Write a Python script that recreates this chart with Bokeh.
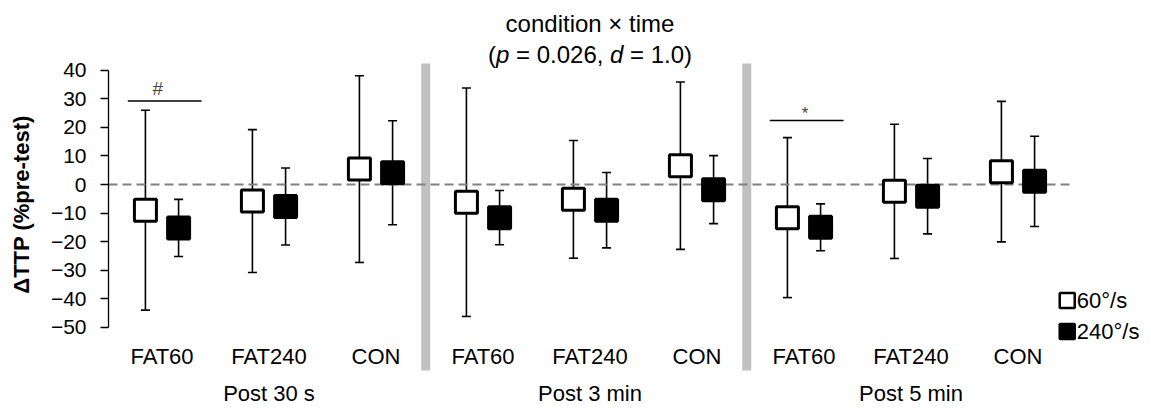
import numpy as np
from bokeh.plotting import figure
from bokeh.models import ColumnDataSource, Range1d, FixedTicker, Whisker, TeeHead
from bokeh.core.properties import value
from bokeh.embed import file_html
from bokeh.resources import INLINE

# ---------------- data ----------------
times = ["Post 30 s", "Post 3 min", "Post 5 min"]
conditions = ["FAT60", "FAT240", "CON"]
series = ["60°/s", "240°/s"]

mean_60 = [-9.0, -5.8, 5.4, -6.2, -5.2, 6.6, -11.6, -2.4, 4.5]
sd_60 = [35.0, 25.0, 32.7, 40.0, 20.6, 29.3, 28.0, 23.5, 24.6]
mean_240 = [-15.2, -7.7, 4.1, -11.6, -9.0, -1.8, -15.0, -4.1, 1.1]
sd_240 = [10.0, 13.5, 18.2, 9.5, 13.2, 11.9, 8.2, 13.2, 15.8]

y_ticks = [-50, -40, -30, -20, -10, 0, 10, 20, 30, 40]
sig_marks = ["#", "*"]
sig_slots = [0, 6]
sig_line_y = [29.2, 22.4]

title_line1 = "condition × time"
title_p_value = "0.026"
title_d_value = "1.0"

FONT = "Liberation Sans"

# ---------------- layout helpers ----------------
n_slots = len(times) * len(conditions)
slot = np.arange(n_slots)
centers = slot + 0.5
dodge = 0.155
x60 = centers - dodge
x240 = centers + dodge

m60 = np.array(mean_60); s60 = np.array(sd_60)
m240 = np.array(mean_240); s240 = np.array(sd_240)

src60 = ColumnDataSource(dict(x=x60, y=m60, upper=m60 + s60, lower=m60 - s60))
src240 = ColumnDataSource(dict(x=x240, y=m240, upper=m240 + s240, lower=m240 - s240))

W, H = 1151, 408
LEFT = 108
ZERO_PX = 184
px_per_unit_y = 2.856
y_top = ZERO_PX / px_per_unit_y
y_bot = -(H - ZERO_PX) / px_per_unit_y

p = figure(width=W, height=H,
           x_range=Range1d(0, (W - LEFT) / 107), y_range=Range1d(y_bot, y_top),
           output_backend="svg", toolbar_location=None, x_axis_location=None,
           min_border_left=LEFT, min_border_right=0, min_border_top=0, min_border_bottom=0)
p.outline_line_color = None
p.xgrid.visible = False
p.ygrid.visible = False
p.background_fill_color = "white"

# y axis
ax = p.yaxis[0]
ax.bounds = (min(y_ticks), max(y_ticks))
ax.ticker = FixedTicker(ticks=y_ticks)
ax.major_tick_out = 8
ax.major_tick_in = 0
ax.minor_tick_line_color = None
ax.axis_line_color = "black"
ax.axis_line_width = 1.3
ax.major_tick_line_color = "black"
ax.major_tick_line_width = 1.3
ax.major_label_text_font = FONT
ax.major_label_text_font_size = "21px"
ax.major_label_text_color = "black"
ax.major_label_standoff = 14
ax.axis_label = "ΔTTP (%pre-test)"
ax.axis_label_text_font = FONT
ax.axis_label_text_font_size = "22px"
ax.axis_label_text_font_style = "bold"
ax.axis_label_text_color = "black"
ax.axis_label_standoff = 14

# separators between time groups
sep_x = np.array([len(conditions) * (i + 1) for i in range(len(times) - 1)]) - 0.035
p.quad(left=sep_x - 0.042, right=sep_x + 0.042, bottom=-65.1, top=42.4,
       fill_color="#c0c0c0", line_color=None)

# zero dashed line
p.segment(x0=[0], x1=[n_slots], y0=[0], y1=[0], line_color="#808080",
          line_width=2.2, line_dash="9 5")

# error bars
for src in (src60, src240):
    w = Whisker(source=src, base="x", upper="upper", lower="lower", dimension="height",
                line_color="black", line_width=1.6,
                upper_head=TeeHead(size=9, line_width=1.6, line_color="black"),
                lower_head=TeeHead(size=9, line_width=1.6, line_color="black"))
    p.add_layout(w)

# markers
p.scatter("x", "y", source=src60, marker="square", size=22, fill_color="white",
          line_color="black", line_width=3)
p.scatter("x", "y", source=src240, marker="square", size=22, fill_color="black",
          line_color="black", line_width=3)

# significance markers
sig_x0 = np.array(sig_slots) + 0.18
sig_x1 = np.array(sig_slots) + 0.87
p.segment(x0=sig_x0, x1=sig_x1, y0=sig_line_y, y1=sig_line_y, line_color="black", line_width=1.5)
p.text(x=[sig_slots[0] + 0.46], y=[33.6], text=[sig_marks[0]],
       text_font=value(FONT), text_font_size="19px", text_color="#444444",
       text_align="center", text_baseline="alphabetic")
p.text(x=[sig_slots[1] + 0.51], y=[24.7], text=[sig_marks[1]],
       text_font=value(FONT), text_font_size="17px", text_color="#444444",
       text_align="center", text_baseline="alphabetic")

# category labels
cat_labels = [c for _ in times for c in conditions]
p.text(x=centers, y=[-60.2] * n_slots, text=cat_labels, text_font=value(FONT),
       text_font_size="22px", text_color="black", text_align="center", text_baseline="middle")

# time group labels
grp_x = [len(conditions) * i + len(conditions) / 2 for i in range(len(times))]
p.text(x=grp_x, y=[-73.2] * len(times), text=times, text_font=value(FONT),
       text_font_size="22px", text_color="black", text_align="center", text_baseline="middle")

# title (inside frame)
tx = n_slots / 2
p.text(x=[tx], y=[56.4], text=[title_line1], text_font=value(FONT), text_font_size="24px",
       text_color="black", text_align="center", text_baseline="middle")
pieces = [("(", "normal", -102), ("p", "italic", -94), ("= " + title_p_value + ",", "normal", -74),
          ("d", "italic", 20), ("= " + title_d_value + ")", "normal", 40)]
for txt, style, off in pieces:
    p.text(x=[tx], y=[45.5], text=[txt], x_offset=off, text_font=value(FONT),
           text_font_size="24px", text_font_style=style, text_color="black",
           text_align="left", text_baseline="middle")

# legend (drawn manually)
leg_y = [-40.6, -51.5]
p.scatter(x=[8.96], y=[leg_y[0]], marker="square", size=15, fill_color="white",
          line_color="black", line_width=2.5)
p.scatter(x=[8.96], y=[leg_y[1]], marker="square", size=15, fill_color="black",
          line_color="black", line_width=2.5)
p.text(x=[9.05, 9.05], y=leg_y, text=series, text_font=value(FONT), text_font_size="22px",
       text_color="black", text_align="left", text_baseline="middle")

open("out.html", "w").write(file_html(p, INLINE))
